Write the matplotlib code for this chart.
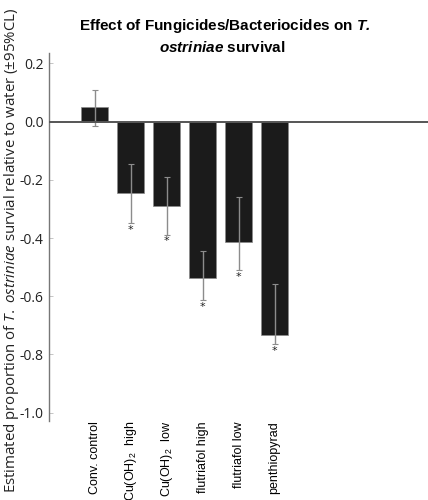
import matplotlib
matplotlib.use('Agg')
import matplotlib.pyplot as plt

plt.rcParams['mathtext.fontset'] = 'custom'
plt.rcParams['mathtext.rm'] = 'Liberation Sans'
plt.rcParams['mathtext.it'] = 'Open Sans:italic'
plt.rcParams['mathtext.bf'] = 'Liberation Sans:bold:italic'

treatments = ['Conv. control', r'Cu(OH)$_2$  high', r'Cu(OH)$_2$  low',
              'flutriafol high', 'flutriafol low', 'penthiopyrad']
estimates = [0.052, -0.246, -0.290, -0.536, -0.415, -0.734]
ci_upper = [0.108, -0.146, -0.190, -0.444, -0.259, -0.557]
ci_lower = [-0.014, -0.349, -0.390, -0.614, -0.511, -0.766]
significant = [False, True, True, True, True, True]
yticks = [0.2, 0.0, -0.2, -0.4, -0.6, -0.8, -1.0]

fig = plt.figure(figsize=(4.28, 5.0), dpi=100)
ax = fig.add_axes([49 / 428, 1 - 421 / 500, 379 / 428, 368 / 500])

x = list(range(len(treatments)))
err_lo = [e - l for e, l in zip(estimates, ci_lower)]
err_hi = [u - e for e, u in zip(estimates, ci_upper)]

ax.bar(x, estimates, width=0.75, color='#1b1b1b', edgecolor='#8a8a8a',
       linewidth=0.5, zorder=2)
ax.errorbar(x, estimates, yerr=[err_lo, err_hi], fmt='none', ecolor='#8c8c8c',
            elinewidth=1.0, capsize=2, capthick=0.8, zorder=3)
for xi, lo, sig in zip(x, ci_lower, significant):
    if sig:
        ax.annotate('*', (xi, lo), xytext=(0, -1), textcoords='offset points',
                    ha='center', va='top', fontsize=8, color='#222222',
                    family='DejaVu Sans')

ax.axhline(0, color='#555555', lw=1.4, zorder=4)

ax.set_xlim(-1.264, -1.264 + 379 / 36)
ax.set_ylim(-1.029, 0.236)
ax.set_yticks(yticks)
ax.set_yticklabels([f'{v:.1f}' for v in yticks], family='Open Sans',
                   fontsize=10, color='#222222')
ax.tick_params(axis='y', direction='in', length=3, width=0.6,
               color='#bbbbbb', pad=4)
ax.set_xticks(x)
ax.set_xticklabels(treatments, rotation=90, family='Liberation Sans',
                   fontsize=9, va='top')
ax.tick_params(axis='x', length=0, pad=0)

for s in ['top', 'right', 'bottom']:
    ax.spines[s].set_visible(False)
ax.spines['left'].set_color('#777777')
ax.spines['left'].set_linewidth(1.0)

fig.text(0.026, 0.5,
         r'Estimated proportion of $\it{T.\ ostriniae}$ survial relative to water (±95%CL)',
         rotation=90, ha='center', va='center', family='Open Sans',
         fontsize=10.8, color='#222222')

fig.text(225 / 428, 1 - 30 / 500, r'Effect of Fungicides/Bacteriocides on $\mathbf{T.}$',
         ha='center', va='baseline', family='Liberation Sans', weight='bold',
         fontsize=11)
fig.text(222 / 428, 1 - 52 / 500, r'$\mathbf{ostriniae}$ survival',
         ha='center', va='baseline', family='Liberation Sans', weight='bold',
         fontsize=11)

fig.savefig('out.png', dpi=100)
